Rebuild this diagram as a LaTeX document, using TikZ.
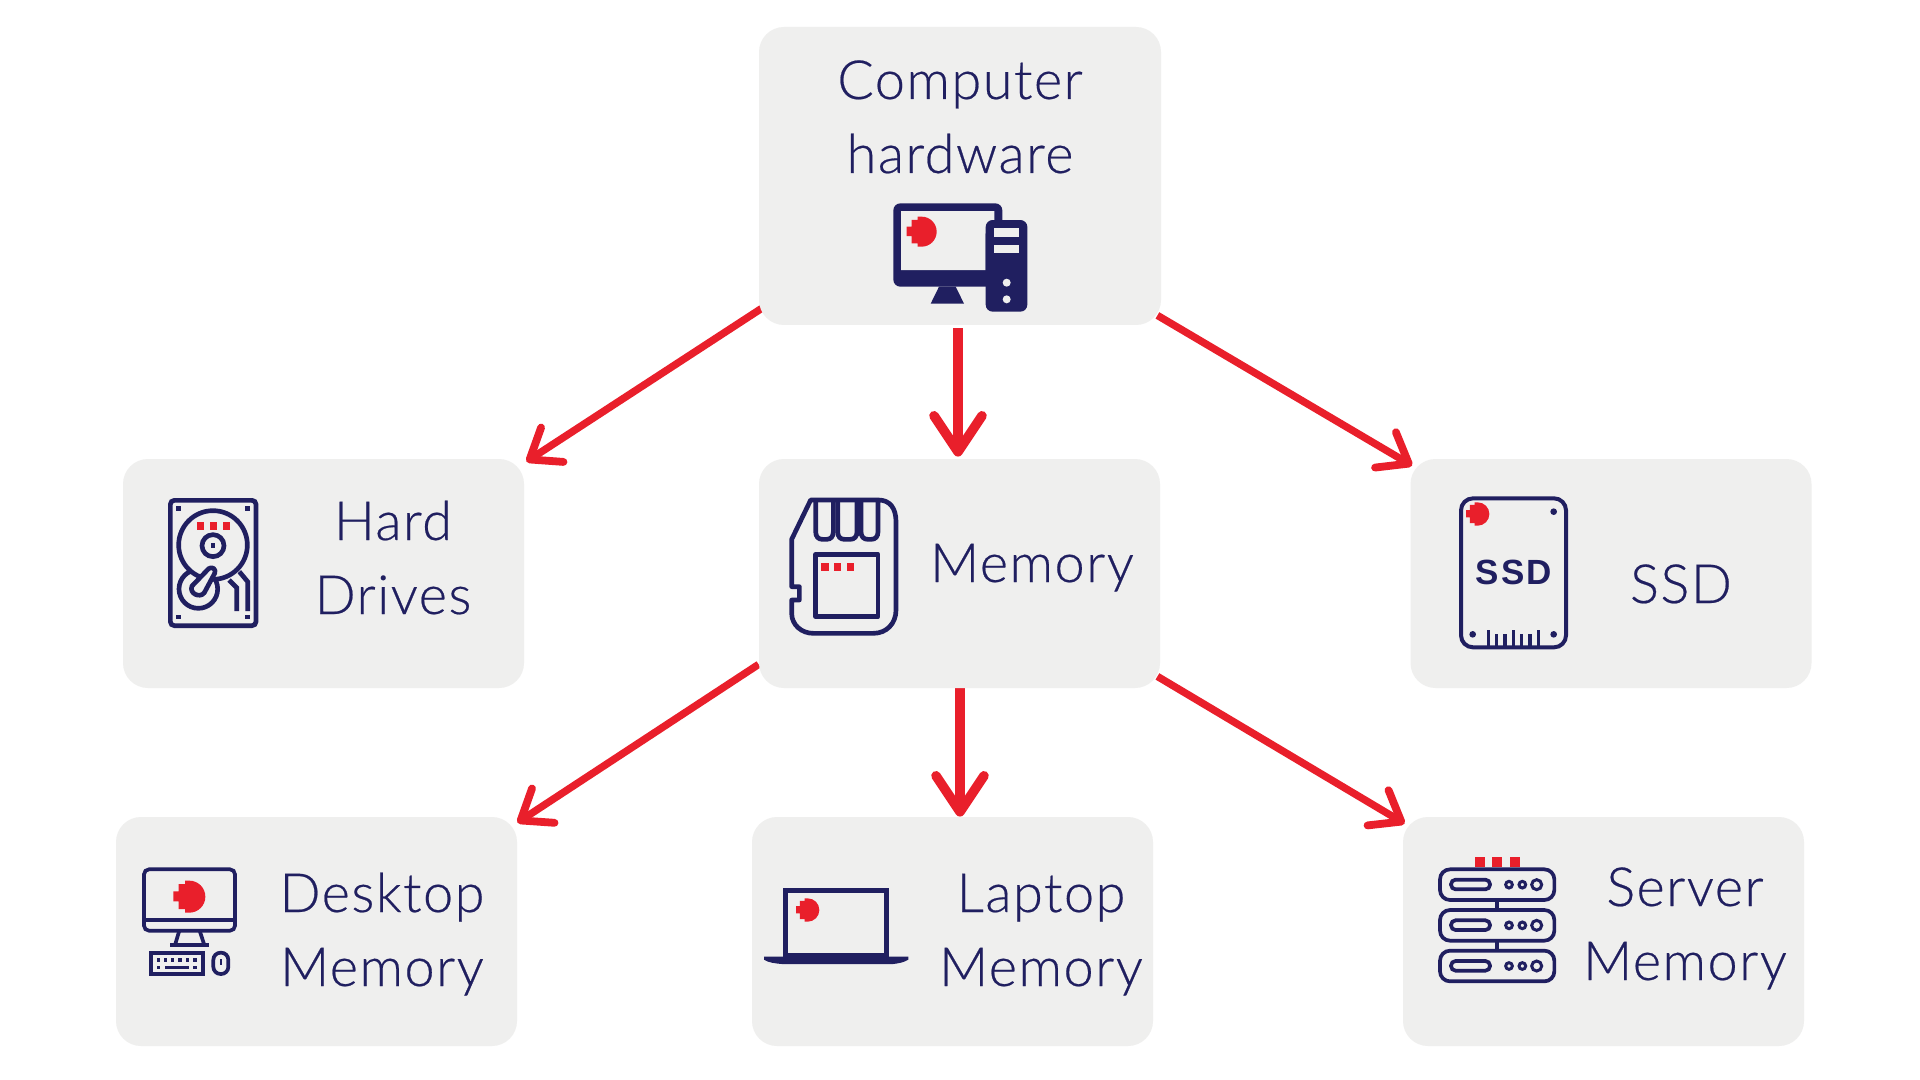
\documentclass[tikz,border=0pt]{standalone}
\usepackage{fontspec}
\setmainfont{Lato}[UprightFont=* Light,UprightFeatures={FakeBold=0.4},LetterSpace=2.8]
\newfontfamily\ssdfont{Liberation Sans}[BoldFont=* Bold,LetterSpace=6]
\usetikzlibrary{arrows.meta,calc,backgrounds}
\definecolor{navy}{HTML}{201F60}
\definecolor{hotred}{HTML}{E91F2B}
\definecolor{panel}{HTML}{EFEFEE}
\tikzset{
  card/.style={fill=panel,rounded corners=12.5pt,minimum width=200.5pt,minimum height=114.5pt,inner sep=0pt},
  label/.style={text=navy,anchor=base,align=center,inner sep=0pt,font=\fontsize{27}{37}\selectfont},
  linkthin/.style={draw=hotred,line width=3.7pt,-{Straight Barb[length=13.5pt,width=20.5pt,round,line width=3.9pt]}},
  linkthick/.style={draw=hotred,line width=5.3pt,-{Straight Barb[length=18pt,width=24pt,round,line width=4.8pt]}},
  zoomunit/.style={x=0.166667pt,y=-0.166667pt},
  ic/.style={draw=navy,line width=2.33pt},
  icthin/.style={draw=navy,line width=1.85pt},
  icfill/.style={fill=navy},
  redfill/.style={fill=hotred},
  mask/.style={fill=panel},
}
% red blob: centre x, centre y, radius, in the units of the current scope
\newcommand{\redblob}[3]{%
  \begin{scope}[shift={(#1,#2)},x=#3*0.166667pt,y=-#3*0.166667pt]
    \fill[redfill] (0,-1) .. controls (.552,-1) and (1,-.552) .. (1,0)
      .. controls (1,.552) and (.552,1) .. (0,1)
      -- (-.27,1) -- (-.27,.78) -- (-.67,.78) -- (-.67,.29) -- (-1,.29)
      -- (-1,-.33) -- (-.67,-.33) -- (-.67,-.78) -- (-.27,-.78) -- (-.27,-1) -- cycle;
  \end{scope}}
\begin{document}
\begin{tikzpicture}[x=0.5pt,y=-0.5pt]
\useasboundingbox (0,0) rectangle (1920,1080);

% cards
\node[card] (hw) at (960,176) [minimum height=149pt,minimum width=201pt] {};
\node[card] (hd) at (323.5,573.5) {};
\node[card] (mem) at (959.5,573.5) {};
\node[card] (ssd) at (1611,573.5) {};
\node[card] (dt) at (316.5,931.5) {};
\node[card] (lt) at (952.5,931.5) {};
\node[card] (sv) at (1603.5,931.5) {};

% connectors, behind the cards
\begin{scope}[on background layer]
  \fill[white] (0,0) rectangle (1920,1080);
  \draw[linkthin] ($(hw.south west)+(3,-17)$) -- ($(hd.north east)+(2,3)$);
  \draw[linkthick] ($(hw.south)+(-2,3)$) -- ($(mem.north)+(-1.5,-2)$);
  \draw[linkthin] ($(hw.south east)+(-4,-10)$) -- ($(ssd.north west)+(2,7)$);
  \draw[linkthin] ($(mem.south west)+(0,-24)$) -- ($(dt.north east)+(0,6)$);
  \draw[linkthick] ($(mem.south)+(0.5,-2)$) -- ($(lt.north)+(7.5,0)$);
  \draw[linkthin] ($(mem.south east)+(-3,-12)$) -- ($(sv.north west)+(2,7)$);
\end{scope}

% labels
\node[label] (t1) at (960,173) {Computer\\hardware};
\node[label] (t2) at (393,614) {Hard\\Drives};
\node[label] (t3) at (1032,582) {Memory};
\node[label] (t4) at (1681,603) {SSD};
\node[label] (t5) at (382,986) {Desktop\\Memory};
\node[label] (t6) at (1041,986) {Laptop\\Memory};
\node[label] (t7) at (1685,980) {Server\\Memory};

% computer icon
\begin{scope}[shift={(740,0)},zoomunit]
  \fill[icfill,rounded corners=3.5pt] (460,610) rectangle (787,860);
  \fill[mask] (483,633) -- (763,633) -- (763,700) -- (737,700) -- (737,810) -- (483,810) -- cycle;
  \fill[icfill] (597,860) -- (647,860) -- (672,911) -- (572,911) -- cycle;
  \fill[icfill,rounded corners=3.5pt] (737,660) rectangle (862,935);
  \fill[mask] (762,685) rectangle (838,710);
  \fill[mask] (762,735) rectangle (838,760);
  \fill[mask] (800,848) circle [radius=12];
  \fill[mask] (800,898) circle [radius=12];
  \redblob{545}{695}{45}
\end{scope}

% hard drive icon
\begin{scope}[shift={(110,450)},zoomunit]
  \draw[ic,rounded corners=2pt] (181,151) rectangle (438,527);
  \foreach \a/\b in {205/176,413/176,205/501,413/501}
    \fill[icfill] (\a-7,\b-7) rectangle (\a+7,\b+7);
  \draw[ic] (265,417) circle [radius=58];
  \draw[ic,fill=panel] (309,285) circle [radius=103];
  \draw[ic,fill=panel,line join=round] (246,408) -- (296,356)
     .. controls (306,348) and (320,358) .. (314,370)
     -- (283,428) .. controls (270,446) and (236,430) .. (246,408) -- cycle;
  \draw[ic] (309,287) circle [radius=33];
  \fill[icfill] (302,280) rectangle (316,294);
  \foreach \a in {260,299,338}
    \fill[redfill] (\a,216) rectangle (\a+22,240);
  \draw[ic] (357,390) -- (380,413) -- (380,483);
  \draw[ic] (388,365) -- (413,395) -- (413,483);
\end{scope}

% memory card icon
\begin{scope}[shift={(760,450)},zoomunit]
  \draw[ic,line join=round] (152,150) -- (95,268) -- (95,410) -- (118,410) -- (118,450) -- (95,450) -- (95,490)
    .. controls (95,525) and (125,550) .. (160,550) -- (340,550)
    .. controls (380,550) and (408,520) .. (408,480) -- (408,215)
    .. controls (408,175) and (390,150) .. (355,150) -- cycle;
  \draw[ic] (167,150) -- (167,245) .. controls (167,260) and (175,268) .. (187,268) -- (200,268)
    .. controls (212,268) and (220,260) .. (220,245) -- (220,150);
  \draw[ic] (233,150) -- (233,245) .. controls (233,260) and (241,268) .. (253,268) -- (271,268)
    .. controls (283,268) and (291,260) .. (291,245) -- (291,150);
  \draw[ic] (303,150) -- (303,245) .. controls (303,260) and (311,268) .. (323,268) -- (334,268)
    .. controls (346,268) and (354,260) .. (354,245) -- (354,150);
  \draw[ic,line join=round] (167,313) rectangle (354,500);
  \foreach \a in {183,221,260}
    \fill[redfill] (\a,340) rectangle (\a+23,362);
\end{scope}

% ssd icon
\begin{scope}[shift={(1400,450)},zoomunit]
  \draw[ic,line width=2pt,rounded corners=6pt] (183,145) rectangle (498,592);
  \fill[icfill] (461,185) circle [radius=10];
  \fill[icfill] (218,553) circle [radius=10];
  \fill[icfill] (461,553) circle [radius=10];
  \redblob{233}{192}{35}
  \node[text=navy,inner sep=0pt] (ssdmark) at (341,368) {\fontsize{17.5}{18}\ssdfont\bfseries SSD};
  \foreach \a/\b in {265/540,290/552,315/552,340/540,365/552,390/552,415/540}
    \draw[navy,line width=1.6pt] (\a,592) -- (\a,\b);
\end{scope}

% desktop icon
\begin{scope}[shift={(110,810)},zoomunit]
  \draw[icthin,rounded corners=2.5pt] (102,178) rectangle (375,362);
  \draw[icthin] (102,330) -- (375,330);
  \draw[icthin] (207,365) -- (195,405);
  \draw[icthin] (270,365) -- (283,405);
  \draw[icthin] (180,405) -- (298,405);
  \redblob{238}{260}{48}
  \draw[icthin] (123,428) rectangle (278,492);
  \foreach \a in {145,167,188,210,232,255}
    \fill[icfill] (\a-5,445) rectangle (\a+5,455);
  \foreach \a in {145,255}
    \fill[icfill] (\a-5,467) rectangle (\a+5,477);
  \fill[icfill] (165,467) rectangle (238,477);
  \draw[icthin,rounded corners=3.6pt] (310,428) rectangle (355,492);
  \draw[navy,line width=1.1pt] (333,447) -- (333,465);
\end{scope}

% laptop icon
\begin{scope}[shift={(750,810)},zoomunit]
  \draw[navy,line width=2.5pt] (107,240) rectangle (410,435);
  \fill[icfill] (42,440) -- (475,440) -- (475,449) .. controls (460,458) and (445,460) .. (430,462)
    -- (95,462) .. controls (75,460) and (55,458) .. (42,449) -- cycle;
  \redblob{173}{300}{35}
\end{scope}

% server icon
\begin{scope}[shift={(1400,810)},zoomunit]
  \foreach \a in {224,276,329}
    \fill[redfill] (\a,140) rectangle (\a+31,170);
  \foreach \o in {0,122,244} {
    \draw[icthin,rounded corners=5pt] (120,178+\o) rectangle (463,270+\o);
    \draw[icthin,rounded corners=2.3pt] (153,209+\o) rectangle (270,238+\o);
    \draw[navy,line width=1.5pt] (327,224+\o) circle [radius=10];
    \draw[navy,line width=1.5pt] (367,224+\o) circle [radius=10];
    \draw[navy,line width=1.5pt] (410,224+\o) circle [radius=15];
  }
  \draw[icthin] (291,270) -- (291,300);
  \draw[icthin] (291,392) -- (291,422);
\end{scope}
\end{tikzpicture}
\end{document}
